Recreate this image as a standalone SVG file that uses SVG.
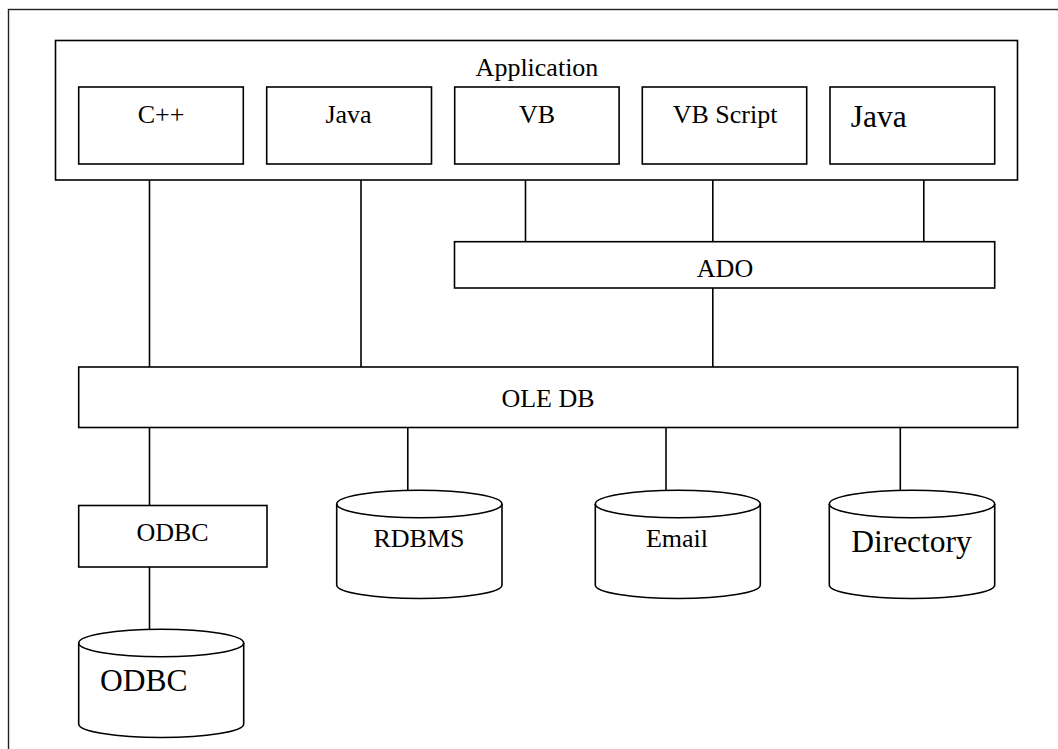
<svg xmlns="http://www.w3.org/2000/svg" width="1058" height="749" viewBox="0 0 1058 749">
<style>
.box{fill:#fff;stroke:#000;stroke-width:1.6}
.frame{fill:none;stroke:#222;stroke-width:1.4}
.ln{stroke:#000;stroke-width:1.6;fill:none}
.cyl{fill:#fff;stroke:#000;stroke-width:1.6}
text{font-family:"Liberation Serif","Times New Roman",serif;fill:#000;font-size:26px}
.c{text-anchor:middle}
.big{font-size:31.5px}
</style>
<rect width="1058" height="749" fill="#fff"/>
<rect class="frame" x="8.5" y="9.5" width="1100" height="800"/>

<g id="connectors">
<line class="ln" x1="149.5" y1="164" x2="149.5" y2="367"/>
<line class="ln" x1="361" y1="164" x2="361" y2="367"/>
<line class="ln" x1="525.5" y1="164" x2="525.5" y2="242"/>
<line class="ln" x1="712.8" y1="164" x2="712.8" y2="242"/>
<line class="ln" x1="923.8" y1="164" x2="923.8" y2="242"/>
<line class="ln" x1="712.8" y1="288" x2="712.8" y2="367"/>
<line class="ln" x1="149.5" y1="427" x2="149.5" y2="505.5"/>
<line class="ln" x1="149.5" y1="567" x2="149.5" y2="629.5"/>
<line class="ln" x1="407.8" y1="427" x2="407.8" y2="490"/>
<line class="ln" x1="666" y1="427" x2="666" y2="490"/>
<line class="ln" x1="900.3" y1="427" x2="900.3" y2="490"/>
</g>

<g id="application">
<rect class="box" x="55.5" y="40.5" width="962" height="139.5"/>
<text class="c" x="537" y="76">Application</text>
</g>
<g id="cpp">
<rect class="box" x="78.7" y="87" width="164.6" height="77"/>
<text class="c" x="161" y="123.3">C++</text>
</g>
<g id="java1">
<rect class="box" x="266.7" y="87" width="164.8" height="77"/>
<text class="c" x="348.5" y="123.3">Java</text>
</g>
<g id="vb">
<rect class="box" x="454.7" y="87" width="164.4" height="77"/>
<text class="c" x="537" y="123.3">VB</text>
</g>
<g id="vbscript">
<rect class="box" x="642.3" y="87" width="164.4" height="77"/>
<text class="c" x="725" y="123.3">VB Script</text>
</g>
<g id="java2">
<rect class="box" x="830" y="87" width="164.7" height="77"/>
<text class="big" x="850.7" y="126.7">Java</text>
</g>
<g id="ado">
<rect class="box" x="454.5" y="241.7" width="540.2" height="46.3"/>
<text class="c" x="725" y="276.7">ADO</text>
</g>
<g id="oledb">
<rect class="box" x="78.7" y="367" width="939" height="60.5"/>
<text class="c" x="548" y="406.5">OLE DB</text>
</g>
<g id="odbc-box">
<rect class="box" x="78.7" y="505.5" width="188.3" height="61.5"/>
<text class="c" x="172.5" y="540.7">ODBC</text>
</g>
<g id="rdbms">
<path class="cyl" d="M336.7,504 A82.65,13.7 0 0 1 502,504 L502,585 A82.65,13.5 0 0 1 336.7,585 Z"/>
<path class="ln" d="M336.7,504 A82.65,13.7 0 0 0 502,504"/>
<text class="c" x="419" y="546.7">RDBMS</text>
</g>
<g id="email">
<path class="cyl" d="M595.3,504 A82.5,13.7 0 0 1 760.3,504 L760.3,585 A82.5,13.5 0 0 1 595.3,585 Z"/>
<path class="ln" d="M595.3,504 A82.5,13.7 0 0 0 760.3,504"/>
<text class="c" x="677" y="546.7">Email</text>
</g>
<g id="directory">
<path class="cyl" d="M829.3,504 A82.7,13.7 0 0 1 994.7,504 L994.7,585 A82.7,13.5 0 0 1 829.3,585 Z"/>
<path class="ln" d="M829.3,504 A82.7,13.7 0 0 0 994.7,504"/>
<text class="c big" x="911.5" y="551.7">Directory</text>
</g>
<g id="odbc-db">
<path class="cyl" d="M78.7,643 A82.5,13.7 0 0 1 243.7,643 L243.7,724 A82.5,13.5 0 0 1 78.7,724 Z"/>
<path class="ln" d="M78.7,643 A82.5,13.7 0 0 0 243.7,643"/>
<text class="big" x="100" y="690.7">ODBC</text>
</g>
</svg>
